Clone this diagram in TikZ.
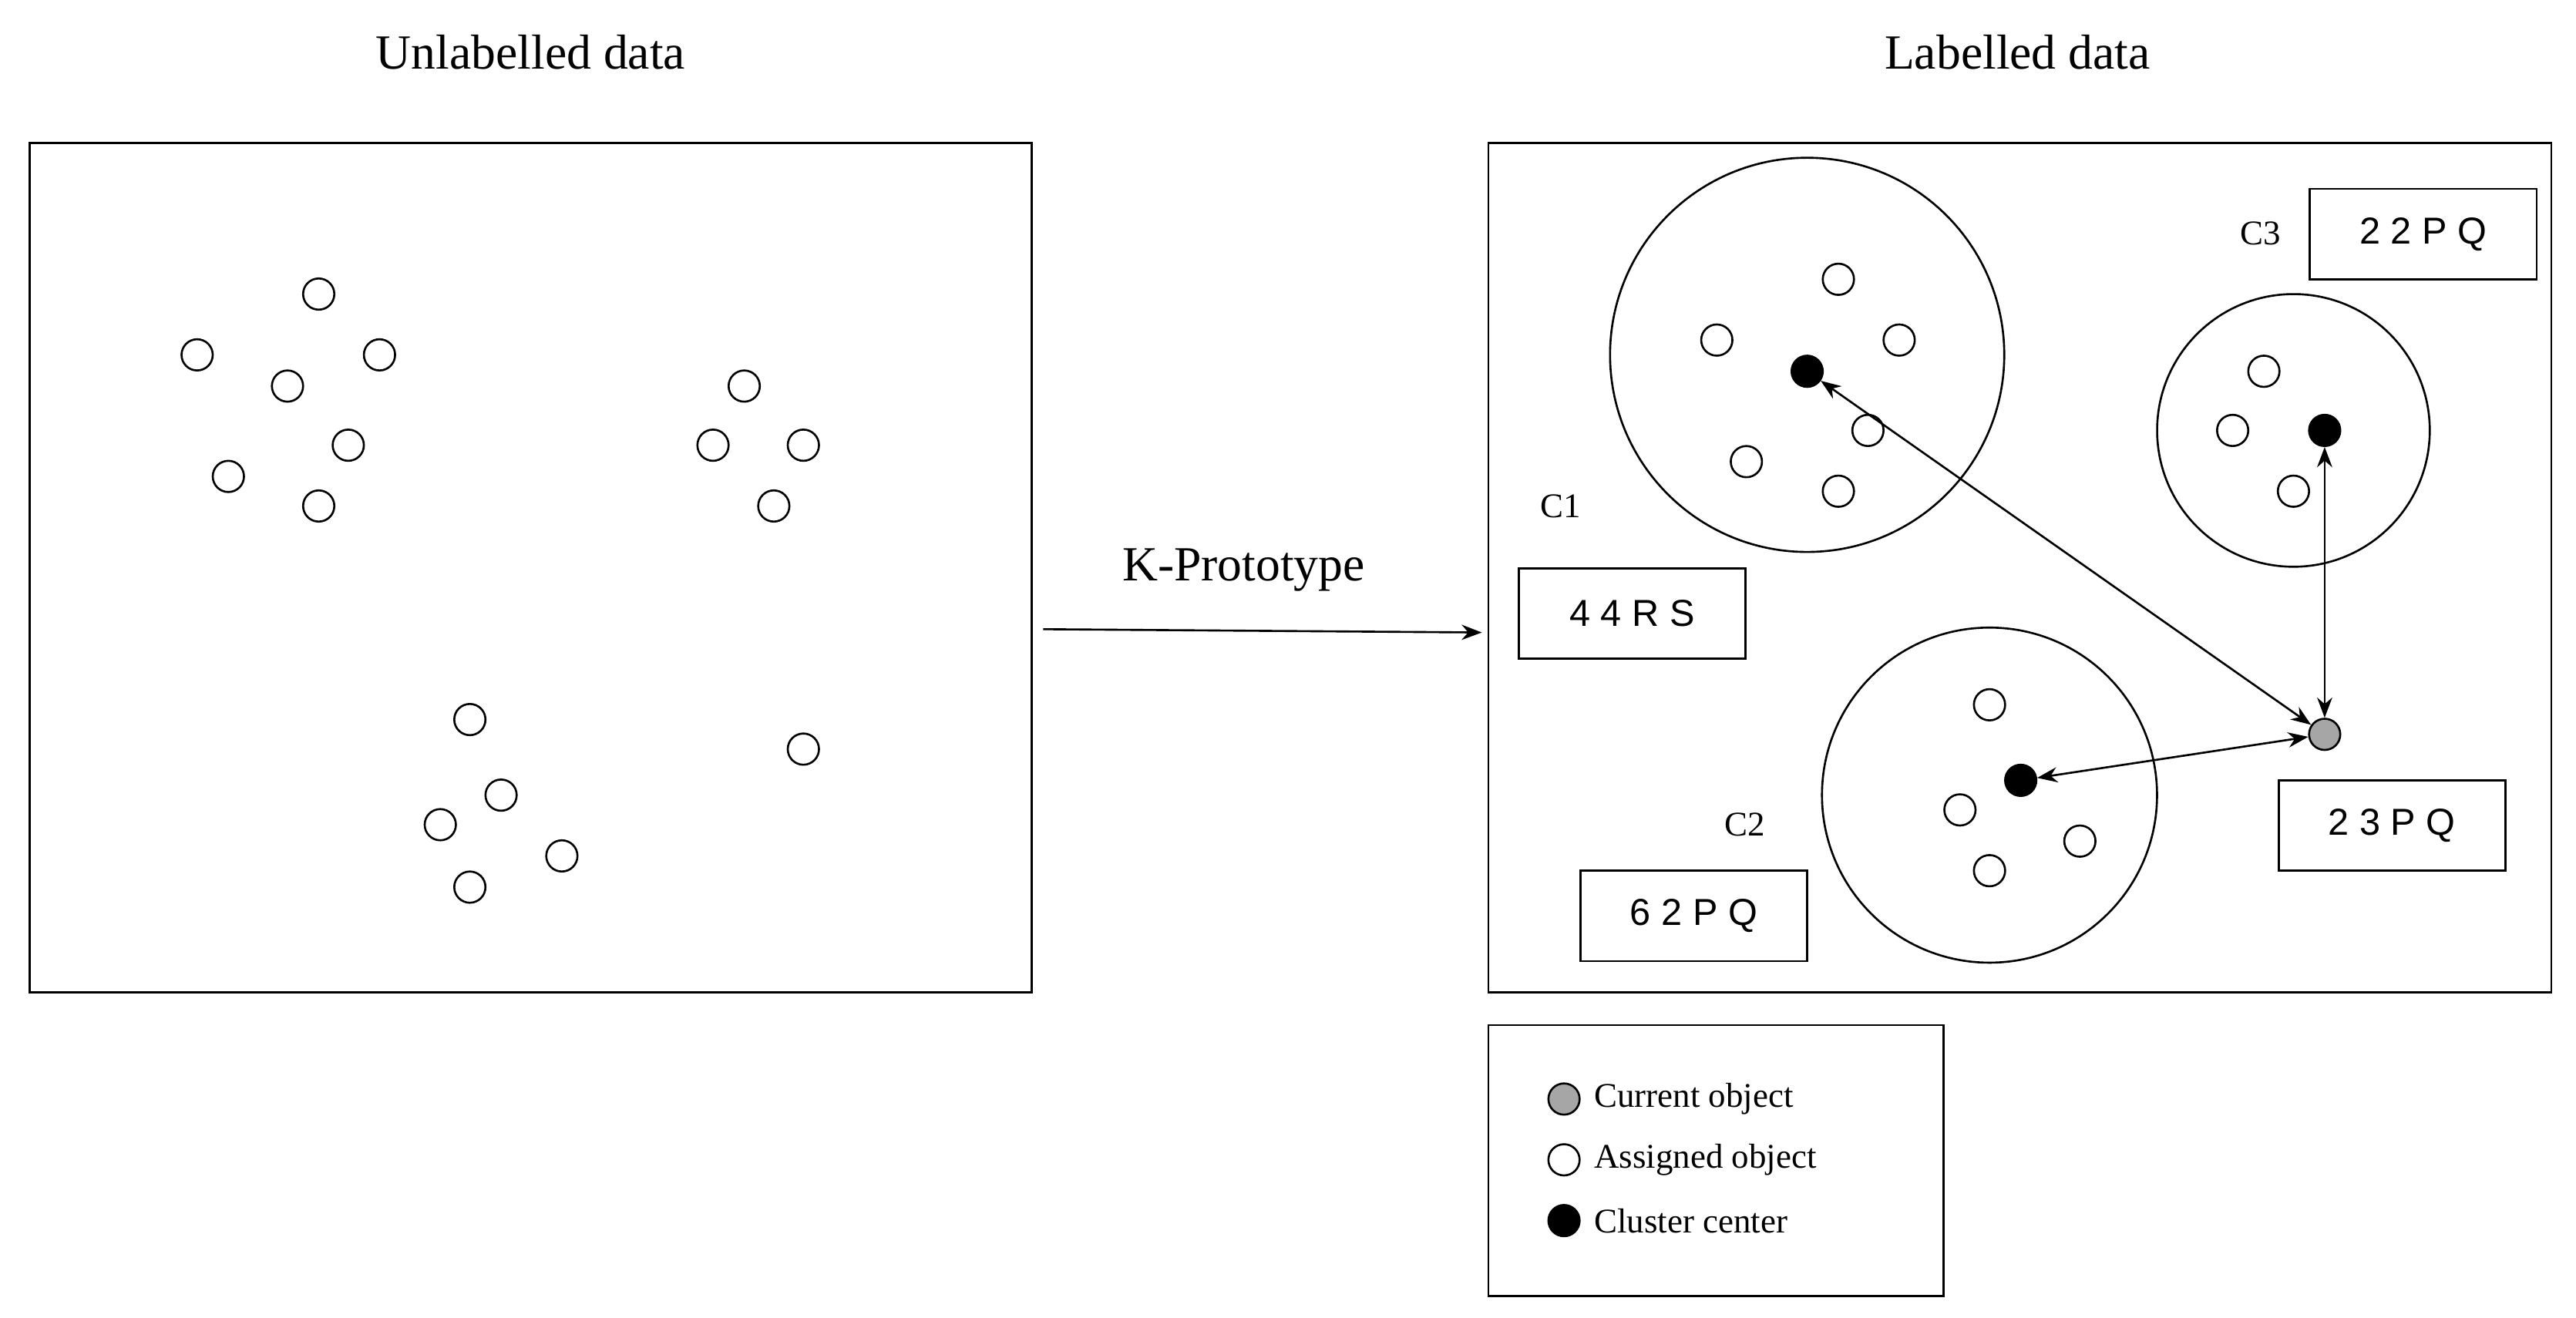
\documentclass[tikz,border=0pt]{standalone}
\usepackage{fontspec}
\setmainfont{Liberation Serif}
\newfontfamily\boxfont{Liberation Sans}
\usetikzlibrary{arrows.meta}
\begin{document}
\begin{tikzpicture}[x=0.02cm,y=-0.02cm,line width=0.7pt,
  pt/.style={circle,draw,fill=white,minimum size=19\pgflinewidth*0+0.38cm,inner sep=0},
  ctr/.style={pt,fill=black},
  cur/.style={pt,fill=gray!70},
  big/.style={circle,draw,inner sep=0},
  lab/.style={draw,minimum width=2.76cm,minimum height=1.1cm,font=\boxfont\fontsize{13}{15}\selectfont},
  cl/.style={font=\fontsize{12}{14}\selectfont},
  arr/.style={{Stealth[length=7pt]}-{Stealth[length=7pt]}}]
\useasboundingbox (0,0) rectangle (1568,802);
\node[font=\fontsize{17}{20}\selectfont] (t1) at (323,32) {Unlabelled data};
\node[font=\fontsize{17}{20}\selectfont] (t2) at (1228,32) {Labelled data};
\draw (18,87) rectangle (628,604);
\draw (906,87) rectangle (1553,604);
\foreach \x/\y [count=\i] in {194/179,120/216,231/216,175/235,212/271,139/290,194/308,453/235,434/271,489/271,471/308,286/438,305/484,268/502,342/521,286/540,489/456}
  \node[pt] (u\i) at (\x,\y) {};
\coordinate (as) at (635,383);
\coordinate (ae) at (902,385);
\draw[-{Stealth[length=7pt]}] (as) -- (ae);
\node[font=\fontsize{17}{20}\selectfont] (kp) at (757,347) {K-Prototype};
\node[big,minimum size=4.8cm] (c1) at (1100,216) {};
\node[big,minimum size=3.32cm] (c3) at (1396,262) {};
\node[big,minimum size=4.08cm] (c2) at (1211,484) {};
\foreach \x/\y [count=\i] in {1119/170,1045/207,1156/207,1137/262,1063/281,1119/299,1378/226,1359/262,1396/299,1211/429,1193/493,1266/512,1211/530}
  \node[pt] (a\i) at (\x,\y) {};
\node[ctr] (k1) at (1100,226) {};
\node[ctr] (k3) at (1415,262) {};
\node[ctr] (k2) at (1230,475) {};
\node[cur] (cur) at (1415,447) {};
\draw[arr] (cur) -- (k1);
\draw[arr] (cur) -- (k3);
\draw[arr] (cur) -- (k2);
\node[cl] (l1) at (950,308) {C1};
\node[cl] (l3) at (1376,142) {C3};
\node[cl] (l2) at (1062,502) {C2};
\node[lab] (b1) at (993.5,373.5) {4 4 R S};
\node[lab] (b3) at (1475,142.5) {2 2 P Q};
\node[lab] (b23) at (1456,502.5) {2 3 P Q};
\node[lab] (b2) at (1031,557.5) {6 2 P Q};
\draw (906,624) rectangle (1183,789);
\node[cur] (g1) at (952,669) {};
\node[pt] (g2) at (952,706) {};
\node[ctr] (g3) at (952,743) {};
\node[cl,anchor=west] at (964,669) {Current object};
\node[cl,anchor=west] at (964,706) {Assigned object};
\node[cl,anchor=west] at (964,743) {Cluster center};
\end{tikzpicture}
\end{document}
